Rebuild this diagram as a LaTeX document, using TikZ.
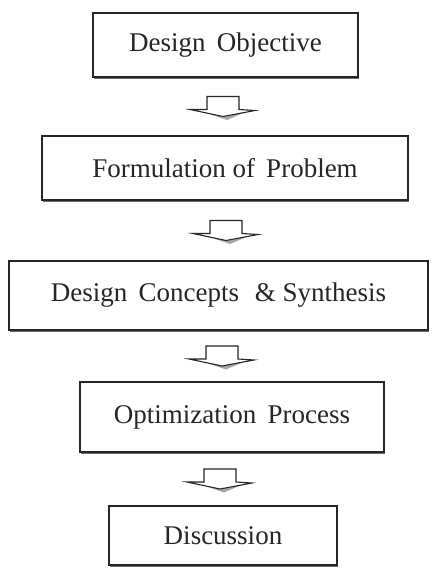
\documentclass[tikz,border=0pt]{standalone}
\usepackage{fontspec}
\setmainfont{Liberation Serif}
\usetikzlibrary{calc,shadows}
\definecolor{ink}{HTML}{262626}
\begin{document}
\begin{tikzpicture}[x=1pt,y=-1pt,
  stage/.style={draw=ink, line width=1.1pt, fill=white, rectangle,
    font=\fontsize{27}{32}\selectfont, text=ink, inner sep=0pt,
    drop shadow={shadow xshift=1.2pt, shadow yshift=-1.6pt, fill=ink!75, opacity=0.9}},
  flowarrow/.style={draw=ink, line width=1.1pt, fill=white, line join=miter}]
  \useasboundingbox (0,0) rectangle (432,569);

  % process stages
  \node[stage, minimum width=265pt, minimum height=64pt] (obj)  at (225.5,45)  {Design\, Objective};
  \node[stage, minimum width=366pt, minimum height=64pt] (form) at (225,168)   {Formulation of\, Problem};
  \node[stage, minimum width=419pt, minimum height=69pt] (conc) at (218.5,295.5) {Design\, Concepts\,\, \& Synthesis};
  \node[stage, minimum width=304pt, minimum height=70pt] (opt)  at (232,417)   {Optimization\, Process};
  \node[stage, minimum width=228pt, minimum height=59pt] (disc) at (223,535.5) {Discussion};

  % block arrows between consecutive stages
  \foreach \a/\b/\dx in {obj/form/0, form/conc/3, conc/opt/-1, opt/disc/-3}{
    \coordinate (m) at ($(\a.south)!0.5!(\b.north)$);
    \path let \p1=(m) in coordinate (top) at (223+\dx,\y1);
    % soft shade under the head
    \fill[ink!40] ($(top)+(-12,8)$) -- ($(top)+(24,5)$) -- ($(top)+(4,13.5)$) -- cycle;
    \draw[flowarrow] ($(top)+(-16,-10)$) -- ($(top)+(16,-10)$) -- ($(top)+(16,3)$)
      -- ($(top)+(32,4)$) -- ($(top)+(0,10)$) -- ($(top)+(-33,3)$)
      -- ($(top)+(-16,3)$) -- cycle;
  }
\end{tikzpicture}
\end{document}
